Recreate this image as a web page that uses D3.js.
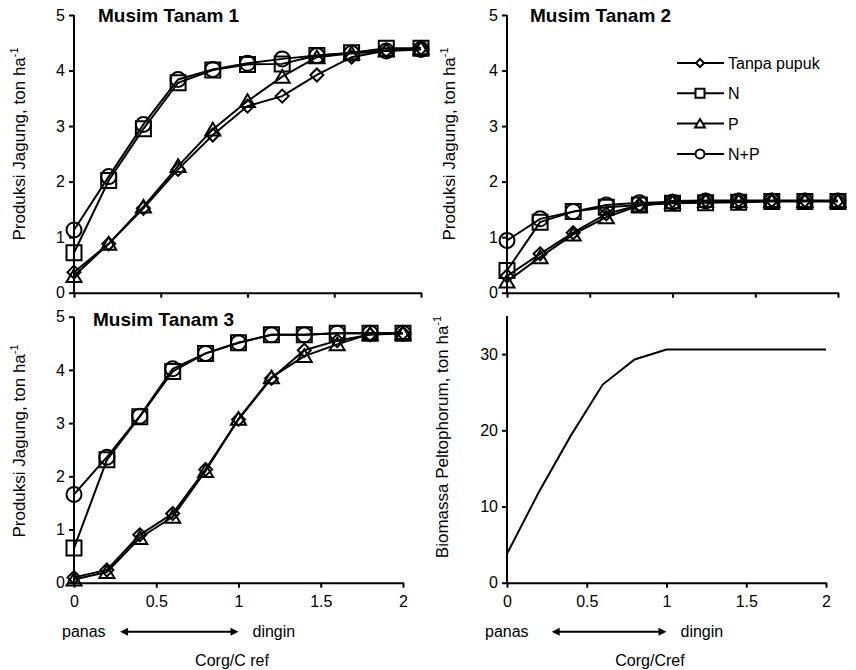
<!DOCTYPE html>
<html lang="id">
<head>
<meta charset="utf-8">
<script src="https://d3js.org/d3.v7.min.js"></script>
<style>
  body { margin: 0; background: #fff; }
  text { font-family: "Liberation Sans", Arial, sans-serif; fill: #000; }
</style>
</head>
<body>
<script>
// x values (Corg/Cref)
var xVals = [0, 0.2, 0.4, 0.6, 0.8, 1.0, 1.2, 1.4, 1.6, 1.8, 2.0];
var seriesNames = ["Tanpa pupuk", "N", "P", "N+P"];

// Musim Tanam 1
var mt1Tanpa = [0.37, 0.88, 1.52, 2.22, 2.84, 3.36, 3.54, 3.92, 4.24, 4.36, 4.40];
var mt1N     = [0.72, 2.02, 2.95, 3.78, 4.01, 4.11, 4.12, 4.27, 4.32, 4.40, 4.40];
var mt1P     = [0.30, 0.88, 1.55, 2.28, 2.94, 3.45, 3.89, 4.24, 4.31, 4.36, 4.40];
var mt1NP    = [1.13, 2.09, 3.03, 3.84, 4.02, 4.13, 4.21, 4.27, 4.31, 4.35, 4.38];

// Musim Tanam 2
var mt2Tanpa = [0.30, 0.70, 1.08, 1.42, 1.58, 1.65, 1.66, 1.66, 1.66, 1.66, 1.66];
var mt2N     = [0.40, 1.27, 1.46, 1.54, 1.58, 1.61, 1.62, 1.63, 1.64, 1.64, 1.64];
var mt2P     = [0.20, 0.64, 1.05, 1.36, 1.57, 1.63, 1.65, 1.65, 1.65, 1.65, 1.65];
var mt2NP    = [0.94, 1.33, 1.46, 1.58, 1.62, 1.63, 1.65, 1.65, 1.65, 1.65, 1.65];

// Musim Tanam 3
var mt3Tanpa = [0.10, 0.24, 0.90, 1.30, 2.13, 3.07, 3.84, 4.37, 4.55, 4.66, 4.69];
var mt3N     = [0.65, 2.31, 3.12, 3.97, 4.31, 4.51, 4.66, 4.66, 4.69, 4.69, 4.69];
var mt3P     = [0.06, 0.20, 0.84, 1.24, 2.10, 3.08, 3.86, 4.26, 4.48, 4.68, 4.69];
var mt3NP    = [1.66, 2.36, 3.13, 4.02, 4.31, 4.51, 4.66, 4.66, 4.69, 4.69, 4.69];

// Biomassa Peltophorum
var biomassa = [3.8, 11.9, 19.3, 26.0, 29.3, 30.6, 30.6, 30.6, 30.6, 30.6, 30.6];

var xTicks = [0, 0.5, 1, 1.5, 2];
var yTicksJagung = [0, 1, 2, 3, 4, 5];
var yTicksBiomassa = [0, 10, 20, 30];

var svg = d3.select("body").append("svg").attr("width", 856).attr("height", 670);

// custom marker shapes
var diamond = { draw: function(c, s) { var r = Math.sqrt(s) / 2; c.moveTo(0, -r); c.lineTo(r, 0); c.lineTo(0, r); c.lineTo(-r, 0); c.closePath(); } };
var square = { draw: function(c, s) { var r = Math.sqrt(s) / 2; c.rect(-r, -r, 2 * r, 2 * r); } };
var triangle = { draw: function(c, s) { var r = Math.sqrt(s) / 2; c.moveTo(0, -r * 0.9); c.lineTo(r, r * 0.8); c.lineTo(-r, r * 0.8); c.closePath(); } };
var circle = { draw: function(c, s) { var r = Math.sqrt(s) / 2; c.moveTo(r, 0); c.arc(0, 0, r, 0, 2 * Math.PI); } };
var shapes = [diamond, square, triangle, circle];
var shapeSize = [13 * 13, 15 * 15, 15 * 15, 15 * 15];

function yLabel(cx, cy, label) {
  var t = svg.append("text")
    .attr("transform", "translate(" + cx + "," + cy + ") rotate(-90)")
    .attr("text-anchor", "middle")
    .style("font-size", "17px");
  t.append("tspan").text(label);
  t.append("tspan").attr("dy", -7).style("font-size", "11px").text("-1");
}

function panel(p) {
  var x = d3.scaleLinear().domain([0, 2]).range([p.x0, p.x1]);
  var y = d3.scaleLinear().domain([0, p.ymax]).range([p.y1, p.y0]);

  // axes
  var gy = svg.append("g").attr("transform", "translate(" + p.x0 + ",0)")
    .call(d3.axisLeft(y).tickValues(p.yTicks).tickSize(5).tickSizeOuter(0).tickPadding(4)
      .tickFormat(d3.format("d")));
  var gx = svg.append("g").attr("transform", "translate(0," + p.y1 + ")")
    .call(d3.axisBottom(x).tickValues(xTicks).tickSize(5).tickSizeOuter(0).tickPadding(8)
      .tickFormat(p.xLabels ? d3.format("") : function() { return ""; }));
  [gx, gy].forEach(function(g) {
    g.selectAll("path,line").attr("stroke", "#000").attr("stroke-width", 2);
    g.selectAll("text").style("font-size", "16px").attr("fill", "#000");
  });
  gy.select(".domain").attr("d", "M0," + y.range()[0] + "V" + y.range()[1]);

  var line = d3.line().x(function(d, i) { return x(xVals[i]); }).y(function(d) { return y(d); });

  p.series.forEach(function(vals, k) {
    svg.append("path").datum(vals).attr("d", line)
      .attr("fill", "none").attr("stroke", "#000").attr("stroke-width", 2);
    if (p.markers) {
      svg.append("g").selectAll("path").data(vals).join("path")
        .attr("transform", function(d, i) { return "translate(" + x(xVals[i]) + "," + y(d) + ")"; })
        .attr("d", d3.symbol().type(shapes[k]).size(shapeSize[k]))
        .attr("fill", "none").attr("stroke", "#000").attr("stroke-width", 2);
    }
  });

  if (p.title) {
    svg.append("text").attr("x", p.title[1]).attr("y", p.title[2])
      .style("font-size", "19px").style("font-weight", "bold").text(p.title[0]);
  }
  yLabel(p.ylab[1], p.ylab[2], p.ylab[0]);

  if (p.xLabels) {
    var ay = p.y1 + 49;
    // double arrow panas <-> dingin
    svg.append("line").attr("x1", x(0.28) + 6).attr("x2", x(1) - 6).attr("y1", ay).attr("y2", ay)
      .attr("stroke", "#000").attr("stroke-width", 2);
    svg.append("path").attr("d", "M" + x(0.28) + "," + ay + "l8,-4v8z");
    svg.append("path").attr("d", "M" + x(1) + "," + ay + "l-8,-4v8z");
    svg.append("text").attr("x", p.panasX).attr("y", ay + 5).style("font-size", "16px").text("panas");
    svg.append("text").attr("x", x(1) + 14).attr("y", ay + 5).style("font-size", "16px").text("dingin");
    svg.append("text").attr("x", p.xlab[1]).attr("y", p.y1 + 83).attr("text-anchor", "middle")
      .style("font-size", "16px").text(p.xlab[0]);
  }
}

panel({ x0: 74, x1: 421, y0: 15, y1: 292.7, ymax: 5, yTicks: yTicksJagung, xLabels: false, markers: true,
  series: [mt1Tanpa, mt1N, mt1P, mt1NP], title: ["Musim Tanam 1", 98, 22],
  ylab: ["Produksi Jagung, ton ha", 25, 144] });
panel({ x0: 507, x1: 838, y0: 15, y1: 292.7, ymax: 5, yTicks: yTicksJagung, xLabels: false, markers: true,
  series: [mt2Tanpa, mt2N, mt2P, mt2NP], title: ["Musim Tanam 2", 530, 22],
  ylab: ["Produksi Jagung, ton ha", 455, 144] });
panel({ x0: 74, x1: 403, y0: 316.7, y1: 582.7, ymax: 5, yTicks: yTicksJagung, xLabels: true, markers: true,
  series: [mt3Tanpa, mt3N, mt3P, mt3NP], title: ["Musim Tanam 3", 93, 326],
  ylab: ["Produksi Jagung, ton ha", 25, 441], panasX: 62, xlab: ["Corg/C ref", 232] });
panel({ x0: 507, x1: 826, y0: 316, y1: 582.7, ymax: 35, yTicks: yTicksBiomassa, xLabels: true, markers: false,
  series: [biomassa], title: null,
  ylab: ["Biomassa Peltophorum, ton ha", 448, 437], panasX: 485, xlab: ["Corg/Cref", 650] });

// legend (in Musim Tanam 2)
var legSize = [8 * 8, 9 * 9, 10 * 10, 9 * 9];
var leg = svg.append("g").selectAll("g").data(seriesNames).join("g")
  .attr("transform", function(d, i) { return "translate(677," + (63 + i * 30.3) + ")"; });
leg.append("line").attr("x1", 0).attr("x2", 47).attr("stroke", "#000").attr("stroke-width", 2);
leg.append("path").attr("transform", "translate(23,0)")
  .attr("d", function(d, i) { return d3.symbol().type(shapes[i]).size(legSize[i])(); })
  .attr("fill", "#fff").attr("stroke", "#000").attr("stroke-width", 2);
leg.append("text").attr("x", 51).attr("y", 6).style("font-size", "16px").text(function(d) { return d; });
</script>
</body>
</html>
